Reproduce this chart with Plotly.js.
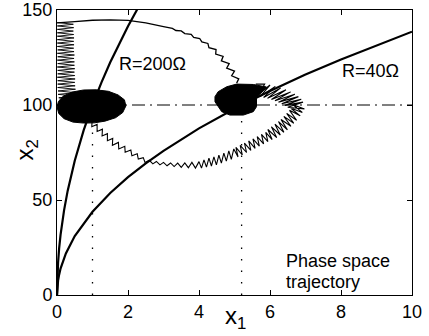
<!DOCTYPE html>
<html>
<head>
<meta charset="utf-8">
<script src="https://cdn.plot.ly/plotly-3.0.1.min.js"></script>
<style>html,body{margin:0;padding:0;background:#fff;}#chart{width:429px;height:336px;}</style>
</head>
<body>
<div id="chart"></div>
<script>
// ---- data ----
const xTicks = [0, 2, 4, 6, 8, 10];
const yTicks = [0, 50, 100, 150];

// load curve R = 200 ohm
const r200X = [0, 0.01, 0.03, 0.06, 0.1, 0.2, 0.3, 0.5, 0.75, 1.0, 1.25, 1.5, 1.75, 2.0, 2.25, 2.3];
const r200Y = [0, 10, 17, 24.5, 31.6, 44.7, 54.8, 70.7, 86.6, 100, 111.8, 122.5, 132.3, 141.4, 150, 151.6];

// load curve R = 40 ohm
const r40X = [0, 0.01, 0.03, 0.06, 0.1, 0.25, 0.5, 1.0, 1.5, 2.0, 2.5, 3.0, 4.0, 5.0, 5.2, 6.0, 7.0, 8.0, 9.0, 10.0];
const r40Y = [0, 4.4, 7.6, 10.7, 13.9, 21.9, 31.0, 43.8, 53.7, 62.0, 69.3, 75.9, 87.7, 98.0, 100, 107.4, 116.0, 124.0, 131.5, 138.6];

// equilibrium guides
const refLevel = 100;
const guideX = [1.0, 5.2];
const guideTop = [92, 96];

// trajectory: left fast oscillation
const hatchX = [0.01,0.46,0.01,0.47,0.01,0.46,0.01,0.47,0.01,0.48,
  0.01,0.47,0.01,0.48,0.01,0.47,0.02,0.48,0.01,0.49,
  0.02,0.48,0.01,0.49,0.02,0.49,0.01,0.50,0.02,0.49,
  0.02,0.50,0.01,0.51,0.02,0.50,0.02,0.51,0.02,0.52,
  0.03,0.51,0.03,0.52,0.05,0.50];
const hatchY = [143.4,142.5,141.6,140.7,139.8,138.9,138.0,137.1,136.2,135.3,
  134.4,133.5,132.6,131.7,130.8,129.9,129.0,128.1,127.2,126.3,
  125.4,124.5,123.6,122.7,121.8,120.9,120.0,119.1,118.2,117.3,
  116.4,115.5,114.6,113.7,112.8,111.9,111.0,110.1,109.2,108.3,
  107.4,106.5,105.6,104.7,103.8,102.9];

// trajectory: upper arc
const arcX = [0.0, 0.25, 0.5, 1.0, 1.5, 2.0, 2.5, 3.0, 3.25, 3.35, 3.5, 3.6, 3.78, 3.85, 4.02, 4.08, 4.25, 4.28, 4.48, 4.47, 4.68, 4.63, 4.85, 4.78, 5.0, 4.92, 5.12, 5.06];
const arcY = [143.2, 143.4, 143.9, 144.6, 144.8, 144.5, 143.2, 141.2, 140.3, 139.2, 139.0, 137.6, 137.2, 135.6, 135.0, 133.2, 132.4, 130.2, 129.2, 126.8, 125.6, 123.2, 121.8, 119.4, 117.8, 115.4, 113.8, 111.5];

// trajectory: lower path and ring round the R=40 equilibrium
const lowX = [0.99,0.98,1.13,1.13,1.28,1.27,1.42,1.42,1.57,1.56,1.73,1.74,1.91,1.92,2.08,2.11,2.26,2.29,2.43,2.48,
  2.6,2.7,2.8,2.9,3.0,3.1,3.2,3.3,3.4,3.5,3.6,3.7,3.8,3.9,4.0,
  4.07,4.14,4.21,4.28,4.35,4.42,4.49,4.56,4.63,4.70,4.77,4.84,4.91,4.98,
  5.10,5.04,5.22,5.16,5.34,5.28,5.46,5.40,5.58,5.52,5.70,5.64,5.82,5.76,5.94,5.88,6.06,
  5.94,6.19,6.04,6.29,6.14,6.39,6.24,6.49,6.31,6.59,6.39,6.67,6.47,6.75,6.55,6.85,6.58,6.91,6.64,6.97,
  6.50,6.93,6.42,6.88,6.33,6.80,6.24,6.70,6.14,6.58,6.04,6.45,5.93,6.30,5.82,6.15,5.72,6.00,5.70,5.85,5.60];
const lowY = [92.2,88.6,89.8,86.1,87.3,83.7,84.9,81.2,82.4,78.8,80.3,76.9,78.3,75.1,76.3,73.3,74.3,71.5,72.3,69.8,
  70.9,69.0,70.3,68.5,69.8,68.0,69.5,67.6,69.4,67.2,69.5,67.0,69.8,66.8,70.2,
  66.8,71.1,67.3,72.0,67.9,72.7,68.5,73.6,69.4,74.7,70.5,75.9,71.4,76.9,
  72.7,77.7,73.8,78.8,75.0,79.9,76.1,81.1,77.2,82.2,78.4,83.4,79.5,84.5,80.7,85.6,81.8,
  87.1,82.8,88.5,84.2,89.9,85.6,91.3,86.9,92.4,88.8,94.0,90.4,95.6,92.0,97.2,94.3,98.4,96.1,100.2,97.9,
  98.8,101.5,99.8,103.0,100.7,104.4,101.5,105.7,102.2,106.9,102.9,108.0,103.5,109.0,104.0,109.8,104.4,110.5,106.0,111.0,111.0];

// dense spiral round the R=200 equilibrium (outline)
const blob1X = [0.0, 0.05, 0.2, 0.45, 0.75, 1.05, 1.35, 1.65, 1.85, 1.94, 1.9, 1.72, 1.45, 1.1, 0.75, 0.42, 0.17, 0.04, 0.0];
const blob1Y = [99, 95.5, 92.8, 91, 90.5, 90.6, 91.5, 93.3, 96.0, 99.5, 102.7, 105.3, 107.2, 108.0, 107.9, 106.8, 104.6, 101.8, 99];

// dense spiral round the R=40 equilibrium (outline)
const blob2X = [4.45, 4.45, 4.54, 4.78, 5.06, 5.53, 5.9, 5.75, 5.62, 5.62, 5.53, 5.25, 4.87, 4.64, 4.54, 4.45];
const blob2Y = [101.7, 104.4, 107, 109.6, 111, 110.8, 109.5, 106, 103.5, 99.1, 96.5, 94.7, 94.7, 96.5, 99.1, 101.7];

// ---- build traces ----
const K = 'black';
const traces = [];
guideX.forEach((gx, i) => {
  traces.push({x: [gx, gx], y: [0, guideTop[i]], mode: 'lines', line: {color: K, width: 1.3, dash: '1.5px,10px'}, hoverinfo: 'skip'});
});
traces.push({x: [0, 10], y: [refLevel, refLevel], mode: 'lines', line: {color: K, width: 1, dash: '13px,5px,2px,5px'}, hoverinfo: 'skip'});
traces.push({x: hatchX, y: hatchY, mode: 'lines', line: {color: K, width: 0.9}});
traces.push({x: arcX, y: arcY, mode: 'lines', line: {color: K, width: 1.3}});
traces.push({x: lowX, y: lowY, mode: 'lines', line: {color: K, width: 1.1}});
traces.push({x: blob1X, y: blob1Y, mode: 'lines', fill: 'toself', fillcolor: K, line: {color: K, width: 1}});
traces.push({x: blob2X, y: blob2Y, mode: 'lines', fill: 'toself', fillcolor: K, line: {color: K, width: 1}});
traces.push({x: r200X, y: r200Y, mode: 'lines', line: {color: K, width: 2.2}});
traces.push({x: r40X, y: r40Y, mode: 'lines', line: {color: K, width: 2.2}});

const FONT = 'Liberation Sans, Arial, Helvetica, sans-serif';
const axisBase = {
  ticks: 'inside', ticklen: 5, tickwidth: 1, tickcolor: K,
  showline: true, linecolor: K, linewidth: 1, mirror: 'allticks',
  showgrid: false, zeroline: false,
  tickfont: {family: FONT, size: 18, color: K}
};

const layout = {
  width: 429, height: 336,
  margin: {l: 57, r: 17, t: 10, b: 41},
  paper_bgcolor: 'white', plot_bgcolor: 'white',
  showlegend: false,
  font: {family: FONT, color: K},
  xaxis: Object.assign({}, axisBase, {range: [0, 10], tickvals: xTicks, ticktext: xTicks.map(String)}),
  yaxis: Object.assign({}, axisBase, {range: [0, 150], tickvals: yTicks, ticktext: yTicks.map(String)}),
  annotations: [
    {xref: 'paper', yref: 'paper', x: 0.502, y: -0.141, text: 'x<sub>1</sub>', showarrow: false, xanchor: 'center', yanchor: 'bottom', font: {family: FONT, size: 24, color: K}},
    {xref: 'paper', yref: 'paper', x: -0.085, y: 0.51, text: 'x<sub>2</sub>', textangle: -90, showarrow: false, xanchor: 'center', yanchor: 'middle', font: {family: FONT, size: 24, color: K}},
    {x: 2.7, y: 121.8, text: 'R=200Ω', showarrow: false, xanchor: 'center', yanchor: 'middle', font: {family: FONT, size: 18, color: K}},
    {x: 8.82, y: 117.9, text: 'R=40Ω', showarrow: false, xanchor: 'center', yanchor: 'middle', font: {family: FONT, size: 18, color: K}},
    {x: 6.39, y: 17.8, text: 'Phase space', showarrow: false, xanchor: 'left', yanchor: 'middle', font: {family: FONT, size: 18, color: K}},
    {x: 6.39, y: 6.9, text: 'trajectory', showarrow: false, xanchor: 'left', yanchor: 'middle', font: {family: FONT, size: 18, color: K}}
  ]
};

Plotly.newPlot('chart', traces, layout, {staticPlot: true, displayModeBar: false});
</script>
</body>
</html>
